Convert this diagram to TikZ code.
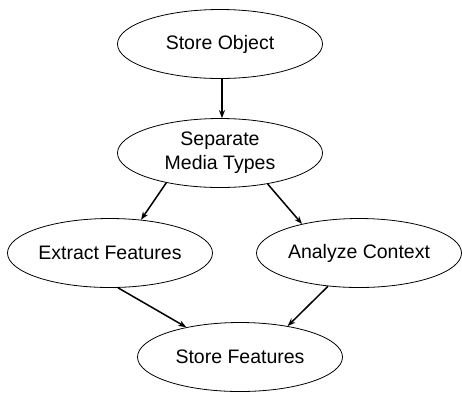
\documentclass[tikz,border=0pt]{standalone}
\usepackage{fontspec}
\setmainfont{Liberation Sans}
\usetikzlibrary{shapes.geometric,arrows.meta}
\begin{document}
\begin{tikzpicture}[x=1pt,y=1pt,
  proc/.style={ellipse,draw,line width=0.8pt,inner sep=0pt,minimum width=205pt,minimum height=69pt,
    font=\fontsize{19.5}{24}\selectfont,align=center},
  flow/.style={line width=1.5pt,-{Stealth[length=8pt,width=6pt]}}]
\useasboundingbox (0,0) rectangle (462,-392);
\node[proc] (so) at (220,-44) {Store Object};
\node[proc] (sm) at (220,-153) {Separate\\Media Types};
\node[proc] (ex) at (110,-253) {Extract Features};
\node[proc] (ac) at (359,-253) {Analyze Context};
\node[proc] (sf) at (240,-357) {Store Features};
\draw[flow] ([xshift=2pt]so.south) -- ([xshift=2pt]sm.north);
\draw[flow] (sm.209.5) -- (ex.47.5);
\draw[flow] (sm.-33) -- (ac.153.4);
\draw[flow] (ex.-77) -- (sf.151);
\draw[flow] (ac.227.6) -- (sf.33.4);
\end{tikzpicture}
\end{document}
